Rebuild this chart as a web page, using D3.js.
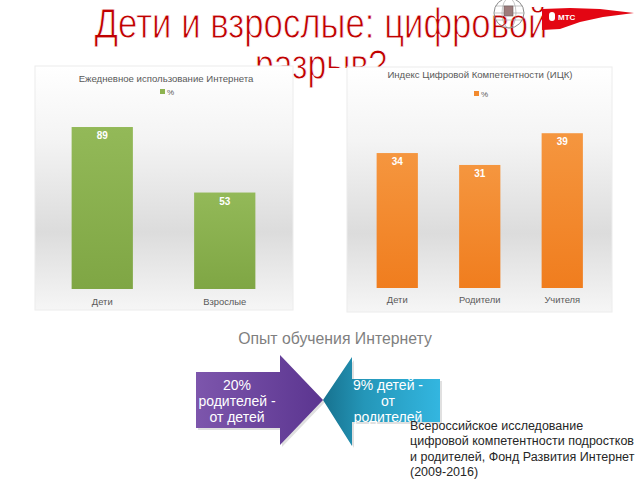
<!DOCTYPE html>
<html>
<head>
<meta charset="utf-8">
<title>Дети и взрослые: цифровой разрыв?</title>
<script src="https://d3js.org/d3.v7.min.js"></script>
<style>
  body { margin: 0; background: #fff; }
  svg text { font-family: "Liberation Sans", Arial, sans-serif; }
</style>
</head>
<body>
<div id="chart"></div>
<script>
// данные
const titleLines = ["Дети и взрослые: цифровой", "разрыв?"];

const leftTitle = "Ежедневное использование Интернета";
const leftCats = ["Дети", "Взрослые"];
const leftVals = [89, 53];

const rightTitle = "Индекс Цифровой Компетентности (ИЦК)";
const rightCats = ["Дети", "Родители", "Учителя"];
const rightVals = [34, 31, 39];

const legendLabel = "%";

const subTitle = "Опыт обучения Интернету";
const arrowLeftText = ["20%", "родителей -", "от детей"];
const arrowRightText = ["9% детей -", "от", "родителей"];
const sourceText = ["Всероссийское исследование", "цифровой компетентности подростков",
                    "и родителей, Фонд Развития Интернет", "(2009-2016)"];

const W = 640, H = 480;
const svg = d3.select("#chart").append("svg")
    .attr("width", W).attr("height", H);
svg.append("rect").attr("width", W).attr("height", H).attr("fill", "#fff");

const defs = svg.append("defs");
function vgrad(id, stops) {
  const g = defs.append("linearGradient").attr("id", id)
      .attr("x1", 0).attr("y1", 0).attr("x2", 0).attr("y2", 1);
  stops.forEach(s => g.append("stop").attr("offset", s[0]).attr("stop-color", s[1]));
}
function hgrad(id, stops) {
  const g = defs.append("linearGradient").attr("id", id)
      .attr("x1", 0).attr("y1", 0).attr("x2", 1).attr("y2", 0);
  stops.forEach(s => g.append("stop").attr("offset", s[0]).attr("stop-color", s[1]));
}
vgrad("panelBg", [[0, "#ffffff"], [0.3, "#f4f4f4"], [0.68, "#dcdcdc"], [1, "#f6f6f6"]]);
vgrad("greenBar", [[0, "#93b958"], [1, "#7fa644"]]);
vgrad("orangeBar", [[0, "#f5963f"], [1, "#f07d1e"]]);
hgrad("purple", [[0, "#7d56ac"], [1, "#5b3590"]]);
hgrad("teal", [[0, "#17728f"], [0.35, "#2496b8"], [1, "#33b6e0"]]);

// заголовок (панели графиков частично его перекрывают)
const title = svg.append("g").attr("fill", "#c00000")
    .attr("stroke", "#fff").attr("stroke-width", 0.9)
    .attr("font-family", "Liberation Sans Narrow, Liberation Sans, Arial, sans-serif")
    .attr("font-size", "43px").attr("text-anchor", "middle");
title.append("text")
    .attr("x", 321).attr("y", 38)
    .attr("textLength", 453).attr("lengthAdjust", "spacingAndGlyphs")
    .text(titleLines[0]);
title.append("text")
    .attr("x", 321).attr("y", 79)
    .attr("textLength", 132).attr("lengthAdjust", "spacingAndGlyphs")
    .text(titleLines[1]);

function drawChart(opt) {
  const g = svg.append("g");
  if (opt.cover) {
    g.append("rect")
        .attr("x", opt.cover[0]).attr("y", opt.cover[1])
        .attr("width", opt.cover[2]).attr("height", opt.cover[3])
        .attr("fill", "#fff");
  }
  g.append("rect")
      .attr("x", opt.panel[0]).attr("y", opt.panel[1])
      .attr("width", opt.panel[2]).attr("height", opt.panel[3])
      .attr("fill", "url(#panelBg)").attr("stroke", "#ececec");

  const x = d3.scaleBand().domain(opt.cats).range(opt.xRange)
      .paddingInner(0.5).paddingOuter(0.25);
  const y = d3.scaleLinear().domain(opt.yDomain).range(opt.yRange);

  g.append("text")
      .attr("x", opt.titleX).attr("y", opt.titleY)
      .attr("text-anchor", "middle")
      .attr("font-size", "9.6px").attr("fill", "#595959")
      .text(opt.title);

  // легенда
  g.append("rect")
      .attr("x", opt.titleX - 6).attr("y", opt.legendY - 6)
      .attr("width", 5).attr("height", 5).attr("fill", opt.color);
  g.append("text")
      .attr("x", opt.titleX + 1).attr("y", opt.legendY)
      .attr("font-size", "8px").attr("fill", "#595959")
      .text(legendLabel);

  g.selectAll("rect.bar")
      .data(opt.vals)
      .enter().append("rect")
      .attr("class", "bar")
      .attr("x", (d, i) => x(opt.cats[i]))
      .attr("y", d => y(d))
      .attr("width", x.bandwidth())
      .attr("height", d => y(0) - y(d))
      .attr("fill", opt.fill);

  g.selectAll("text.val")
      .data(opt.vals)
      .enter().append("text")
      .attr("class", "val")
      .attr("x", (d, i) => x(opt.cats[i]) + x.bandwidth() / 2)
      .attr("y", d => y(d) + 12)
      .attr("text-anchor", "middle")
      .attr("font-size", "10px").attr("font-weight", "bold")
      .attr("fill", "#fff")
      .text(d => d);

  const ax = g.append("g")
      .attr("transform", "translate(0," + y(0) + ")")
      .call(d3.axisBottom(x).tickSize(0).tickPadding(opt.pad));
  ax.select(".domain").remove();
  ax.selectAll("text")
      .attr("font-family", "Liberation Sans, Arial, sans-serif")
      .attr("font-size", "9.4px").attr("fill", "#595959");
}

drawChart({
  cover: [325, 68, 287, 244],
  panel: [347, 67, 265, 245],
  cats: rightCats, vals: rightVals,
  xRange: [356, 603.5], yDomain: [0, 45], yRange: [288, 109.4],
  title: rightTitle, titleX: 480, titleY: 78, legendY: 97,
  color: "#f28a2e", fill: "url(#orangeBar)", pad: 8
});

drawChart({
  panel: [35, 66, 258, 244],
  cats: leftCats, vals: leftVals,
  xRange: [41, 286], yDomain: [0, 100], yRange: [289, 107],
  title: leftTitle, titleX: 166, titleY: 82, legendY: 95,
  color: "#8db34f", fill: "url(#greenBar)", pad: 9
});

// логотипы
const logo = svg.append("g");
logo.append("circle").attr("cx", 509).attr("cy", 13).attr("r", 15)
    .attr("fill", "none").attr("stroke", "#8a8a8a").attr("stroke-width", 1);
logo.append("ellipse").attr("cx", 509).attr("cy", 13).attr("rx", 7).attr("ry", 15)
    .attr("fill", "none").attr("stroke", "#a0a0a0").attr("stroke-width", 0.6);
[6, 13, 20].forEach(yy => logo.append("line")
    .attr("x1", 495).attr("x2", 523).attr("y1", yy).attr("y2", yy)
    .attr("stroke", "#a0a0a0").attr("stroke-width", 0.6));
logo.append("rect").attr("x", 504).attr("y", 6).attr("width", 9).attr("height", 10)
    .attr("fill", "#9c7c7c").attr("stroke", "#6e5a5a").attr("stroke-width", 0.6);
logo.append("path")
    .attr("d", "M542,9 L570,8 L600,9 L634,13 L603,17 L580,22 L560,29 L542,30 Z")
    .attr("fill", "#e30613");
logo.append("rect").attr("x", 549).attr("y", 12).attr("width", 6).attr("height", 9)
    .attr("rx", 3).attr("fill", "#fff");
logo.append("text").attr("x", 558).attr("y", 20)
    .attr("font-size", "8px").attr("font-weight", "bold").attr("fill", "#fff")
    .text("МТС");

// Опыт обучения
svg.append("text")
    .attr("x", 335).attr("y", 344)
    .attr("text-anchor", "middle")
    .attr("font-size", "15.8px").attr("fill", "#7f7f7f")
    .text(subTitle);

const arrows = svg.append("g");
// тень
arrows.append("path")
    .attr("d", "M198,374 L282,374 L282,357 L325,402 L282,447 L282,430 L198,430 Z")
    .attr("fill", "#000").attr("opacity", 0.12);
arrows.append("path")
    .attr("d", "M196,372 L280,372 L280,355 L323,400 L280,445 L280,428 L196,428 Z")
    .attr("fill", "url(#purple)");
arrows.append("path")
    .attr("d", "M442,381 L354,381 L354,360 L325,402 L354,448 L354,424 L442,424 Z")
    .attr("fill", "#000").attr("opacity", 0.12);
arrows.append("path")
    .attr("d", "M440,379 L352,379 L352,357 L323,400 L352,446 L352,422 L440,422 Z")
    .attr("fill", "url(#teal)");

arrows.selectAll("text.al")
    .data(arrowLeftText)
    .enter().append("text")
    .attr("class", "al")
    .attr("x", 237).attr("y", (d, i) => 390 + i * 16)
    .attr("text-anchor", "middle")
    .attr("font-size", "14px").attr("fill", "#fff")
    .text(d => d);

arrows.selectAll("text.ar")
    .data(arrowRightText)
    .enter().append("text")
    .attr("class", "ar")
    .attr("x", 388).attr("y", (d, i) => 390 + i * 16)
    .attr("text-anchor", "middle")
    .attr("font-size", "14px").attr("fill", "#fff")
    .text(d => d);

// источник
svg.selectAll("text.src")
    .data(sourceText)
    .enter().append("text")
    .attr("class", "src")
    .attr("x", 410).attr("y", (d, i) => 430 + i * 15.3)
    .attr("font-size", "12.5px").attr("fill", "#262626")
    .text(d => d);
</script>
</body>
</html>
